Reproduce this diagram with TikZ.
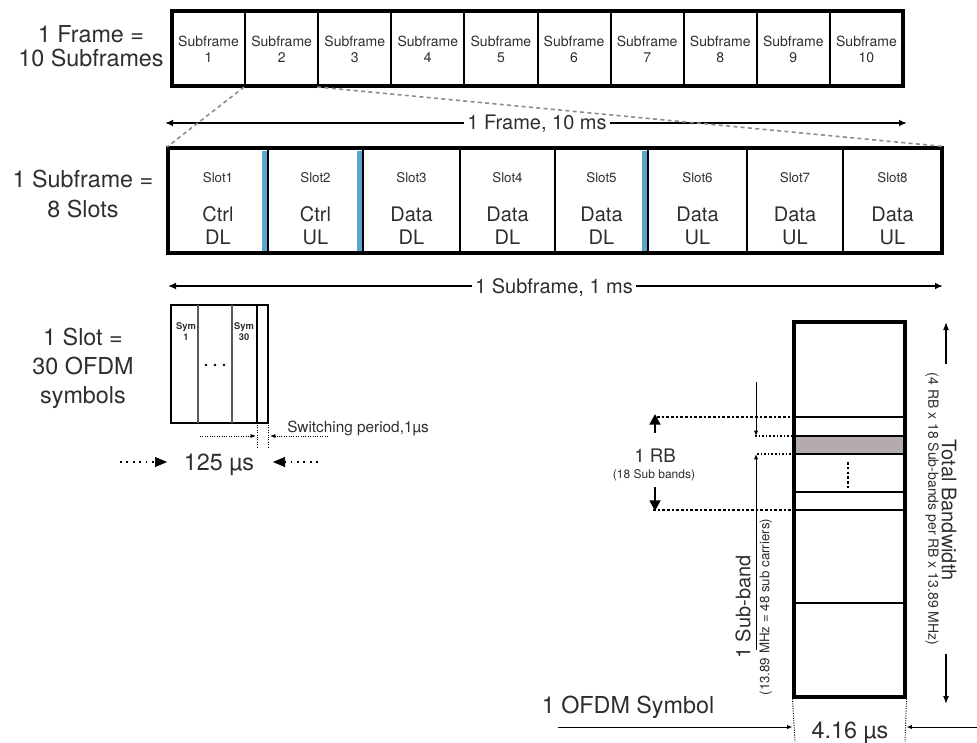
\documentclass[tikz,border=0pt]{standalone}
\usepackage{fontspec}
\setmainfont{TeX Gyre Heros}
\usetikzlibrary{arrows.meta}
\definecolor{txt}{HTML}{2E2E2E}
\definecolor{barblue}{RGB}{92,163,206}
\definecolor{rbgray}{RGB}{180,171,174}
\definecolor{dashgray}{RGB}{140,140,140}
\newcommand{\myfs}[1]{\fontsize{#1}{#1}\selectfont}
\begin{document}
\begin{tikzpicture}[x=0.75pt,y=-0.75pt,
 lbl/.style={text=txt, inner sep=0pt, anchor=base},
 cellbox/.style={draw, line width=1.5pt, inner sep=0pt},
 outerbox/.style={draw, line width=2.3pt, inner sep=0pt},
 arr/.style={line width=1.1pt, -{Latex[length=6pt,width=5pt]}},
 thinarr/.style={line width=0.7pt, -{Latex[length=4pt,width=3.2pt]}},
 bwarr/.style={line width=1pt, -{Latex[length=6pt,width=4.5pt]}},
 fatarr/.style={line width=2.1pt, -{Triangle[length=8pt,width=8pt]}},
 tri/.style={-{Triangle[length=9pt,width=7.5pt]}},
 dashln/.style={draw=dashgray, line width=1.2pt, dash pattern=on 3pt off 2.5pt},
 dotbig/.style={line width=2.1pt, dash pattern=on 2.1pt off 1.4pt},
 dotsmall/.style={line width=1.2pt, dash pattern=on 1.2pt off 1.5pt},
 dotmid/.style={line width=1.4pt, dash pattern=on 1.4pt off 3.4pt},
 dotfine/.style={line width=0.7pt, dash pattern=on 0.8pt off 1pt},
 hl/.style={line width=1.6pt},
]
\useasboundingbox (0,0) rectangle (977,742);

% ---------- frame ----------
\node[lbl,font=\myfs{17.5}] (fl1) at (91,43) {1 Frame =};
\node[lbl,font=\myfs{17.5}] (fl2) at (91,66) {10 Subframes};
\foreach \i in {1,...,10}{
  \pgfmathsetmacro\cx{172+73.1*(\i-0.5)}
  \node[cellbox, minimum width=54.825pt, minimum height=56.25pt] (sf\i) at (\cx,48.5) {};
  \node[lbl, font=\myfs{10.5}] (sft\i) at (\cx,47) {Subframe};
  \node[lbl, font=\myfs{10.5}] (sfn\i) at (\cx,63) {\i};
}
\node[outerbox, minimum width=548.25pt, minimum height=56.25pt] (frame) at (537.5,48.5) {};

% frame length arrow
\coordinate (fA) at (165,123);
\coordinate (fB) at (907,123);
\node[lbl, font=\myfs{15}, inner xsep=2pt] (ftxt) at (537,129) {1 Frame, 10 ms};
\draw[arr] (ftxt.west |- fA) -- (fA);
\draw[arr] (ftxt.east |- fB) -- (fB);

% ---------- subframe ----------
\node[lbl,font=\myfs{17.5}] (sl1) at (83,187) {1 Subframe =};
\node[lbl,font=\myfs{17.5}] (sl2) at (83,217) {8 Slots};
\foreach \i/\a/\b/\k/\d in {1/168/268/Ctrl/DL, 2/268/363/Ctrl/UL, 3/363/460/Data/DL, 4/460/555/Data/DL, 5/555/648/Data/DL, 6/648/747/Data/UL, 7/747/843/Data/UL, 8/843/942/Data/UL}{
  \pgfmathsetmacro\cx{(\a+\b)/2}
  \pgfmathsetmacro\w{(\b-\a)*0.75}
  \node[cellbox, minimum width=\w pt, minimum height=78.75pt] (slot\i) at (\cx,200.5) {};
  \node[lbl,font=\myfs{10}] (slt\i) at (\cx,182) {Slot\i};
  \node[lbl,font=\myfs{15}] (slk\i) at (\cx,221) {\k};
  \node[lbl,font=\myfs{15}] (sld\i) at (\cx,244) {\d};
}
\fill[barblue] (262,151) rectangle (267,251);
\fill[barblue] (357,151) rectangle (362,251);
\fill[barblue] (642,151) rectangle (647,251);
\node[outerbox, minimum width=580.5pt, minimum height=78.75pt] (slotbox) at (555,200.5) {};

% zoom lines
\draw[dashln] (sf2.south west) -- (slot1.north west);
\draw[dashln] (sf3.south west) -- (slotbox.north east);

% subframe length arrow
\coordinate (sA) at (168,286);
\coordinate (sB) at (943,286);
\node[lbl, font=\myfs{15}, inner xsep=2pt] (stxt) at (554,293) {1 Subframe, 1 ms};
\draw[arr] (stxt.west |- sA) -- (sA);
\draw[arr] (stxt.east |- sB) -- (sB);

% ---------- slot ----------
\node[lbl,font=\myfs{17.5}] (ol1) at (83,345) {1 Slot =};
\node[lbl,font=\myfs{17.5}] (ol2) at (83,374) {30 OFDM};
\node[lbl,font=\myfs{17.5}] (ol3) at (83,403) {symbols};

\node[outerbox, line width=2pt, minimum width=72.75pt, minimum height=88.5pt] (symbox) at (219.5,364) {};
\draw[line width=1pt, draw=black!65] (198,305) -- (198,423);
\draw[line width=1pt, draw=black!65] (232,305) -- (232,423);
\draw[line width=0.8pt] (257,305) -- (257,423);
\node[lbl, font=\bfseries\myfs{7}] (s1a) at (186,329) {Sym};
\node[lbl, font=\bfseries\myfs{7}] (s1b) at (186,340) {1};
\node[lbl, font=\bfseries\myfs{7}] (s30a) at (244,329) {Sym};
\node[lbl, font=\bfseries\myfs{7}] (s30b) at (244,340) {30};
\fill (206,365) circle (1.4);
\fill (215,365) circle (1.4);
\fill (224,365) circle (1.4);

% switching period
\coordinate (swA) at (200,436);
\coordinate (swB) at (256,436);
\coordinate (swC) at (328,436);
\coordinate (swD) at (270,436);
\draw[dotfine] (257,425) -- (257,447);
\draw[dotfine] (268,425) -- (268,447);
\draw[dotfine, -{Latex[length=4pt,width=3pt]}] (swA) -- (swB);
\draw[dotfine, -{Latex[length=4pt,width=3pt]}] (swC) -- (swD);
\node[lbl, font=\myfs{11.5}, anchor=base west] (sw) at (287,432) {Switching period,1µs};

% 125 us
\node[lbl, font=\myfs{17.5}] (t125) at (219,470) {125 µs};
\coordinate (tA) at (120,462);
\coordinate (tB) at (318,462);
\draw[dotmid] (tA) -- (156,462);
\draw[tri] (155,462) -- (167,462);
\draw[dotmid] (tB) -- (284,462);
\draw[tri] (285,462) -- (273,462);

% ---------- bandwidth column ----------
\fill[rbgray] (796,436) rectangle (903,454);
\draw[hl] (794,417) -- (905,417);
\draw[line width=1.1pt] (794,436) -- (905,436);
\draw[hl] (794,454) -- (905,454);
\draw[hl] (792,492) -- (905,492);
\draw[hl] (794,510) -- (905,510);
\draw[hl] (794,603) -- (905,603);
\node[outerbox, minimum width=83.25pt, minimum height=281.25pt] (bw) at (849.5,509.5) {};
\draw[line width=1.8pt, dash pattern=on 2pt off 1.6pt] (848,462) -- (848,488);

% RB markers
\draw[dotbig] (657,417) -- (794,417);
\draw[dotbig] (653,510) -- (794,510);
\draw[dotsmall] (755,436) -- (794,436);
\draw[dotsmall] (757,454) -- (794,454);
\node[lbl, font=\myfs{14}] (rb) at (655,462) {1 RB};
\node[lbl, font=\myfs{9}] (rbs) at (654,478) {(18 Sub bands)};
\coordinate (rbU) at (655,414);
\coordinate (rbD) at (655,511);
\draw[fatarr] (655,433) -- (rbU);
\draw[fatarr] (655,487) -- (rbD);

% sub-band markers
\coordinate (sbT) at (756,382);
\coordinate (sbB) at (756,650);
\draw[thinarr] (sbT) -- (756,436);
\draw[thinarr] (sbB) -- (756,454);
\node[rotate=90, font=\myfs{15}, text=txt, inner sep=0pt] (sb) at (743,607) {1 Sub-band};
\node[rotate=90, font=\myfs{10}, text=txt, inner sep=0pt] (sbm) at (766,607) {(13.89 MHz = 48 sub carriers)};

% total bandwidth
\node[rotate=-90, font=\myfs{15}, text=txt, inner sep=0pt] (tb) at (949,510) {Total Bandwidth};
\node[rotate=-90, font=\myfs{10.5}, text=txt, inner sep=0pt] (tbs) at (932,509) {(4 RB x 18 Sub-bands per RB x 13.89 MHz)};
\coordinate (tbU) at (946,322);
\coordinate (tbD) at (946,704);
\draw[bwarr] (946,364) -- (tbU);
\draw[bwarr] (946,654) -- (tbD);

% OFDM symbol
\node[lbl, font=\myfs{17.5}] (os) at (628,713) {1 OFDM Symbol};
\draw[dotfine] (bw.south west) -- (795,742);
\draw[dotfine] (bw.south east) -- (905,742);
\node[lbl, font=\myfs{17.5}] (t416) at (850,738) {4.16 µs};
\coordinate (oA) at (558,727);
\coordinate (oB) at (977,727);
\draw[thinarr] (oA) -- (bw.south west |- oA);
\draw[thinarr] (oB) -- (bw.south east |- oB);
\end{tikzpicture}
\end{document}
